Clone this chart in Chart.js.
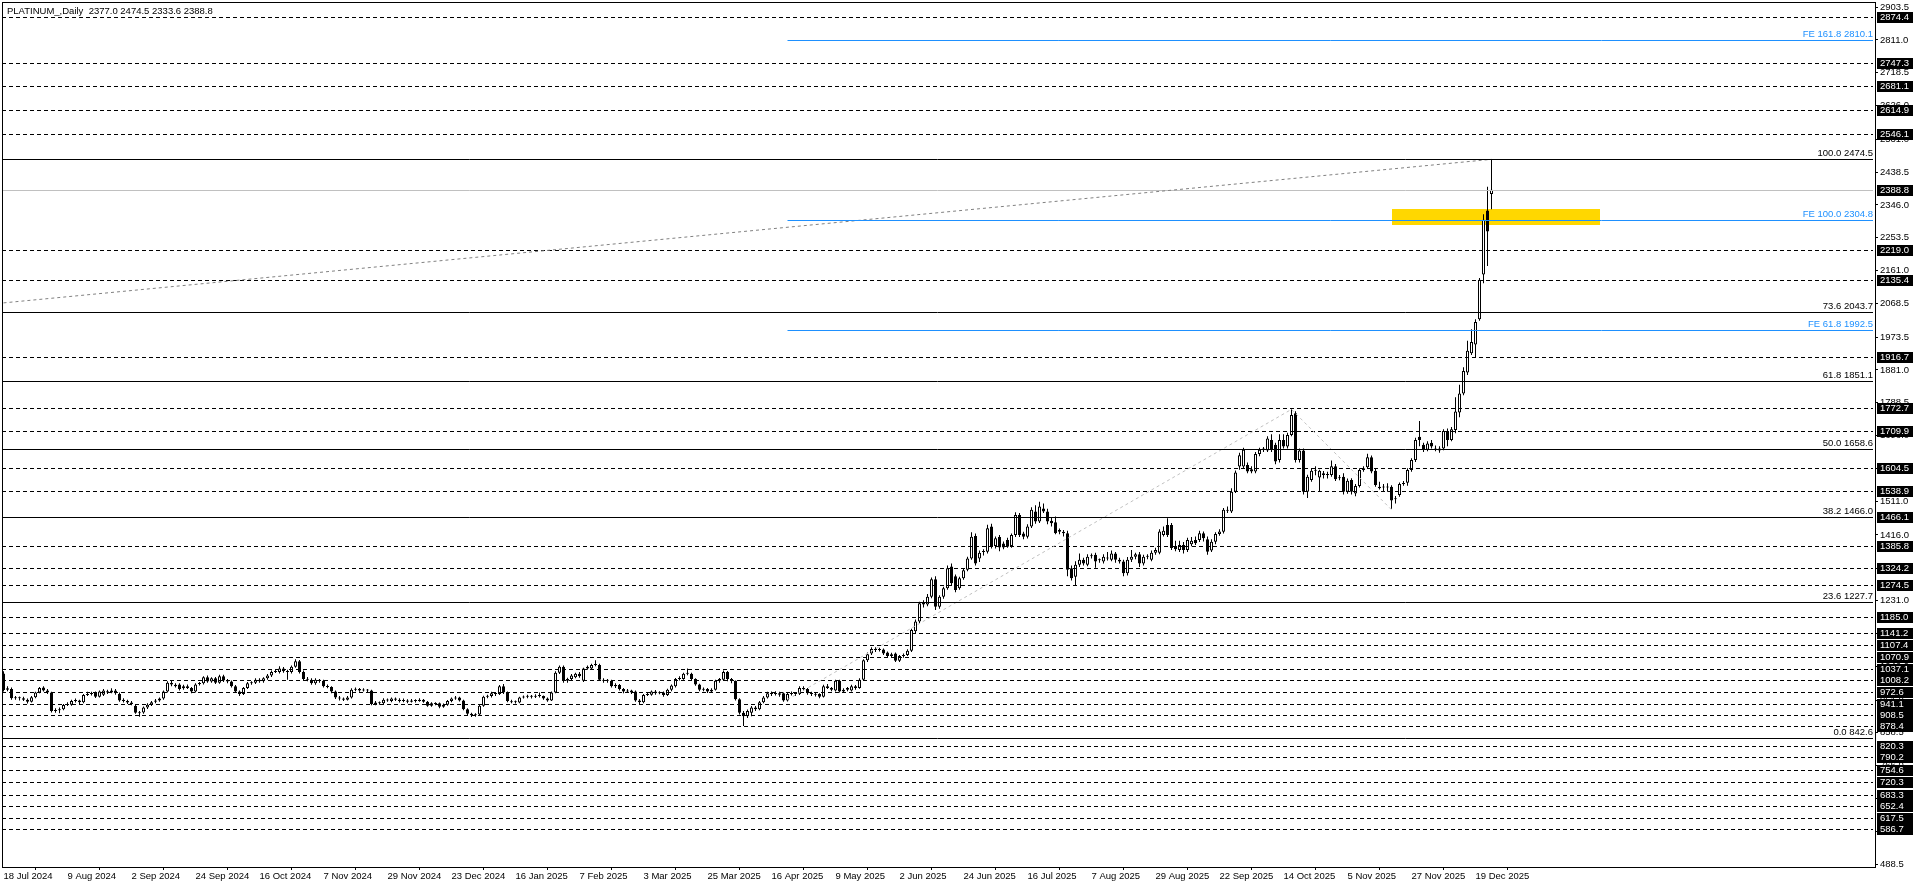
<!DOCTYPE html>
<html>
<head>
<meta charset="utf-8">
<title>PLATINUM_ Daily</title>
<script src="https://cdn.jsdelivr.net/npm/chart.js@4.4.1/dist/chart.umd.min.js"></script>
<style>
	html, body { margin: 0; padding: 0; background: #fff; }
	#wrap { width: 1916px; height: 888px; position: relative; }
</style>
</head>
<body>
<div id="wrap"><canvas id="PriceChart"></canvas></div>
<script>
// daily candles, 18 Jul 2024 .. 26 Dec 2025
var opens = [
	1026, 980, 982, 956, 958, 956, 952, 946, 959, 972,
	986, 978, 972, 920, 922, 925, 937, 938, 948, 950,
	945, 965, 968, 972, 960, 966, 976, 972, 978, 968,
	952, 948, 944, 935, 914, 916, 930, 938, 946, 950,
	955, 975, 1000, 994, 995, 984, 990, 985, 975, 996,
	998, 1015, 1003, 1012, 1000, 1018, 1006, 1003, 990, 975,
	968, 985, 998, 1000, 1008, 1004, 1012, 1020, 1030, 1030,
	1040, 1032, 1030, 1045, 1060, 1030, 1010, 1008, 998, 1006,
	1005, 990, 988, 975, 958, 955, 952, 958, 980, 982,
	978, 980, 978, 940, 944, 942, 952, 948, 955, 952,
	948, 950, 946, 950, 948, 952, 946, 935, 942, 942,
	932, 938, 948, 955, 958, 950, 925, 912, 908, 910,
	935, 960, 962, 970, 968, 990, 972, 947, 945, 944,
	958, 960, 962, 960, 963, 962, 955, 950, 972, 1028,
	1045, 1005, 1010, 1015, 1025, 1005, 1040, 1040, 1050, 1050,
	1008, 1005, 1005, 990, 993, 982, 975, 978, 975, 950,
	945, 965, 966, 975, 970, 972, 965, 980, 990, 1010,
	1010, 1025, 1025, 1010, 995, 980, 982, 975, 980, 1005,
	1008, 1030, 1010, 1005, 953, 915, 905, 915, 930, 925,
	945, 958, 970, 968, 970, 970, 950, 968, 970, 968,
	985, 982, 970, 968, 968, 960, 990, 985, 978, 1005,
	975, 980, 978, 990, 985, 1008, 1063, 1082, 1095, 1092,
	1093, 1085, 1075, 1082, 1062, 1075, 1078, 1090, 1145, 1172,
	1220, 1220, 1242, 1291, 1214, 1242, 1266, 1327, 1300, 1266,
	1294, 1318, 1350, 1413, 1350, 1368, 1369, 1440, 1385, 1410,
	1392, 1402, 1385, 1416, 1472, 1420, 1411, 1440, 1482, 1454,
	1491, 1482, 1456, 1452, 1430, 1425, 1421, 1322, 1298, 1332,
	1346, 1332, 1356, 1360, 1345, 1341, 1350, 1346, 1364, 1346,
	1341, 1308, 1346, 1355, 1362, 1336, 1355, 1346, 1366, 1366,
	1416, 1444, 1444, 1385, 1374, 1388, 1374, 1390, 1402, 1402,
	1421, 1404, 1372, 1397, 1419, 1425, 1487, 1482, 1538, 1609,
	1609, 1613, 1601, 1595, 1644, 1657, 1654, 1684, 1670, 1627,
	1684, 1665, 1698, 1759, 1627, 1654, 1538, 1571, 1597, 1578,
	1590, 1588, 1585, 1610, 1576, 1580, 1538, 1571, 1533, 1554,
	1599, 1607, 1635, 1597, 1552, 1550, 1550, 1552, 1517, 1529,
	1560, 1563, 1599, 1627, 1693, 1670, 1656, 1676, 1660, 1660,
	1660, 1709, 1684, 1712, 1761, 1815, 1874, 1928, 1953, 2024,
	2150, 2330, 2377.0
];
var highs = [
	1032, 990, 986, 962, 961, 960, 955, 962, 974, 988,
	990, 982, 974, 928, 930, 940, 945, 952, 955, 952,
	968, 974, 974, 975, 978, 982, 980, 984, 982, 972,
	956, 952, 948, 938, 920, 933, 942, 948, 954, 958,
	978, 1004, 1006, 998, 998, 994, 995, 988, 998, 1002,
	1018, 1020, 1015, 1016, 1022, 1022, 1010, 1006, 993, 978,
	988, 1002, 1004, 1012, 1012, 1015, 1024, 1034, 1038, 1046,
	1044, 1036, 1048, 1066, 1064, 1034, 1016, 1012, 1012, 1010,
	1008, 995, 990, 978, 962, 958, 962, 984, 986, 985,
	984, 982, 980, 948, 947, 956, 955, 958, 958, 956,
	955, 953, 954, 953, 956, 954, 948, 945, 945, 944,
	941, 951, 958, 962, 960, 952, 928, 915, 914, 938,
	963, 966, 974, 973, 993, 996, 975, 952, 950, 960,
	964, 966, 965, 967, 972, 964, 958, 975, 1032, 1048,
	1048, 1014, 1024, 1028, 1030, 1042, 1048, 1053, 1063, 1053,
	1012, 1010, 1008, 998, 996, 985, 982, 980, 978, 954,
	968, 972, 978, 979, 976, 975, 983, 995, 1013, 1018,
	1028, 1040, 1028, 1012, 997, 986, 985, 984, 1008, 1013,
	1034, 1033, 1013, 1006, 956, 920, 924, 934, 934, 948,
	962, 974, 975, 976, 974, 972, 972, 975, 973, 990,
	990, 985, 974, 972, 970, 994, 996, 988, 1008, 1008,
	984, 988, 994, 993, 1012, 1066, 1085, 1100, 1100, 1098,
	1096, 1088, 1084, 1085, 1078, 1082, 1094, 1152, 1178, 1228,
	1232, 1250, 1296, 1300, 1246, 1270, 1330, 1336, 1305, 1298,
	1322, 1355, 1424, 1420, 1372, 1376, 1445, 1448, 1412, 1416,
	1398, 1408, 1420, 1480, 1478, 1425, 1446, 1494, 1500, 1510,
	1505, 1490, 1466, 1468, 1434, 1430, 1428, 1330, 1342, 1364,
	1352, 1362, 1364, 1366, 1350, 1362, 1368, 1372, 1368, 1352,
	1346, 1354, 1374, 1366, 1368, 1360, 1362, 1372, 1380, 1432,
	1440, 1463, 1450, 1400, 1400, 1396, 1408, 1410, 1412, 1428,
	1426, 1412, 1404, 1424, 1432, 1492, 1496, 1548, 1598, 1648,
	1662, 1620, 1610, 1650, 1662, 1664, 1694, 1700, 1676, 1700,
	1700, 1704, 1770, 1765, 1660, 1660, 1586, 1604, 1610, 1600,
	1596, 1594, 1626, 1616, 1585, 1590, 1575, 1576, 1560, 1604,
	1610, 1645, 1640, 1602, 1566, 1560, 1562, 1556, 1526, 1564,
	1568, 1604, 1632, 1690, 1737, 1676, 1680, 1684, 1668, 1666,
	1714, 1716, 1720, 1804, 1839, 1889, 1963, 1996, 2024, 2140,
	2320, 2397, 2474.5
];
var lows = [
	975, 976, 952, 952, 950, 948, 941, 944, 956, 970,
	975, 968, 916, 915, 914, 922, 934, 935, 944, 940,
	942, 962, 964, 957, 958, 962, 968, 970, 966, 946,
	944, 940, 936, 912, 904, 912, 926, 934, 942, 946,
	952, 972, 990, 986, 978, 980, 982, 970, 972, 992,
	995, 1000, 1000, 996, 997, 1002, 998, 986, 972, 962,
	965, 982, 994, 996, 1000, 1000, 1008, 1016, 1027, 1026,
	1028, 1008, 1026, 1042, 1026, 1006, 1004, 994, 994, 1000,
	986, 984, 970, 954, 950, 948, 950, 955, 976, 974,
	975, 972, 936, 936, 938, 940, 946, 945, 948, 944,
	945, 942, 944, 944, 946, 943, 932, 932, 936, 928,
	929, 935, 945, 952, 947, 922, 908, 903, 904, 908,
	932, 956, 958, 962, 965, 968, 945, 942, 941, 942,
	955, 956, 955, 957, 958, 952, 946, 948, 970, 1024,
	1000, 1000, 1006, 1012, 1014, 1002, 1036, 1038, 1046, 1005,
	1000, 1000, 986, 985, 978, 970, 972, 968, 946, 937,
	942, 962, 963, 966, 967, 960, 962, 976, 986, 1006,
	1008, 1021, 1006, 991, 976, 976, 971, 972, 978, 1000,
	1005, 1004, 998, 950, 910, 878, 900, 905, 920, 922,
	942, 955, 962, 964, 960, 946, 947, 964, 962, 965,
	978, 966, 962, 961, 956, 958, 982, 976, 975, 972,
	971, 976, 975, 980, 983, 1005, 1058, 1078, 1086, 1088,
	1078, 1070, 1072, 1058, 1058, 1070, 1075, 1086, 1140, 1168,
	1212, 1215, 1238, 1205, 1208, 1236, 1262, 1272, 1255, 1262,
	1290, 1314, 1346, 1330, 1340, 1358, 1364, 1378, 1378, 1370,
	1376, 1380, 1380, 1410, 1410, 1404, 1406, 1436, 1448, 1450,
	1478, 1446, 1440, 1418, 1418, 1412, 1300, 1288, 1275, 1326,
	1330, 1328, 1350, 1324, 1338, 1336, 1344, 1342, 1338, 1336,
	1300, 1302, 1340, 1348, 1326, 1330, 1348, 1342, 1360, 1362,
	1412, 1410, 1374, 1370, 1368, 1364, 1368, 1384, 1388, 1396,
	1398, 1360, 1368, 1390, 1414, 1420, 1478, 1478, 1534, 1600,
	1604, 1590, 1590, 1590, 1638, 1650, 1650, 1650, 1615, 1620,
	1660, 1660, 1694, 1620, 1620, 1530, 1520, 1566, 1584, 1540,
	1575, 1575, 1580, 1568, 1570, 1530, 1532, 1530, 1525, 1550,
	1594, 1602, 1590, 1552, 1544, 1540, 1538, 1490, 1505, 1524,
	1555, 1555, 1594, 1622, 1666, 1650, 1652, 1660, 1652, 1648,
	1655, 1666, 1680, 1703, 1748, 1810, 1867, 1923, 1917, 2020,
	2125, 2174, 2333.6
];
var closes = [
	979, 984, 956, 958, 956, 952, 946, 959, 972, 985,
	978, 972, 920, 922, 925, 937, 940, 948, 950, 945,
	965, 968, 970, 960, 975, 978, 972, 978, 970, 950,
	948, 944, 940, 915, 916, 930, 938, 945, 950, 955,
	975, 1000, 995, 990, 982, 990, 985, 975, 995, 998,
	1015, 1003, 1012, 1000, 1018, 1006, 1003, 990, 975, 968,
	985, 998, 1000, 1008, 1004, 1012, 1020, 1030, 1032, 1040,
	1032, 1030, 1045, 1060, 1030, 1010, 1008, 998, 1008, 1005,
	990, 988, 975, 958, 955, 952, 958, 980, 982, 978,
	980, 978, 940, 944, 942, 952, 950, 955, 952, 948,
	950, 946, 950, 948, 952, 946, 935, 942, 940, 932,
	938, 948, 955, 958, 950, 925, 912, 908, 910, 935,
	960, 962, 970, 968, 990, 972, 948, 945, 946, 958,
	960, 962, 960, 963, 962, 955, 950, 972, 1028, 1045,
	1005, 1010, 1020, 1025, 1018, 1040, 1045, 1050, 1050, 1008,
	1005, 1005, 990, 993, 982, 975, 978, 972, 950, 945,
	965, 968, 975, 970, 972, 965, 980, 992, 1010, 1012,
	1025, 1025, 1010, 995, 980, 982, 975, 980, 1005, 1010,
	1030, 1010, 1005, 953, 915, 905, 920, 930, 925, 945,
	958, 970, 968, 970, 966, 950, 968, 970, 968, 985,
	982, 970, 968, 966, 960, 990, 985, 980, 1005, 975,
	980, 985, 990, 985, 1008, 1063, 1080, 1095, 1092, 1093,
	1082, 1075, 1080, 1062, 1075, 1078, 1090, 1148, 1172, 1224,
	1226, 1242, 1291, 1214, 1242, 1266, 1322, 1280, 1261, 1294,
	1317, 1350, 1411, 1336, 1366, 1369, 1435, 1383, 1407, 1381,
	1381, 1383, 1416, 1472, 1416, 1411, 1440, 1487, 1454, 1496,
	1482, 1454, 1449, 1421, 1425, 1421, 1318, 1294, 1332, 1346,
	1336, 1355, 1357, 1341, 1346, 1355, 1351, 1364, 1346, 1341,
	1308, 1346, 1355, 1362, 1336, 1355, 1355, 1366, 1374, 1426,
	1428, 1416, 1379, 1376, 1388, 1374, 1402, 1400, 1393, 1421,
	1407, 1369, 1397, 1419, 1426, 1487, 1484, 1538, 1592, 1641,
	1656, 1595, 1595, 1644, 1656, 1660, 1688, 1656, 1623, 1684,
	1665, 1698, 1754, 1627, 1654, 1538, 1580, 1597, 1597, 1597,
	1585, 1585, 1610, 1573, 1579, 1538, 1569, 1538, 1554, 1599,
	1604, 1635, 1595, 1557, 1548, 1550, 1550, 1513, 1519, 1560,
	1562, 1599, 1627, 1684, 1684, 1657, 1674, 1665, 1657, 1654,
	1709, 1684, 1714, 1764, 1815, 1878, 1935, 1960, 2016, 2135,
	2304, 2271, 2388.8
];

// time axis: one label every 16 bars
var xTickIdx = [0, 16, 32, 48, 64, 80, 96, 112, 128, 144, 160, 176, 192, 208, 224, 240, 256, 272, 288, 304, 320, 336, 352, 368];
var xTickLabels = ['18 Jul 2024', '9 Aug 2024', '2 Sep 2024', '24 Sep 2024', '16 Oct 2024', '7 Nov 2024', '29 Nov 2024', '23 Dec 2024',
	'16 Jan 2025', '7 Feb 2025', '3 Mar 2025', '25 Mar 2025', '16 Apr 2025', '9 May 2025', '2 Jun 2025', '24 Jun 2025',
	'16 Jul 2025', '7 Aug 2025', '29 Aug 2025', '22 Sep 2025', '14 Oct 2025', '5 Nov 2025', '27 Nov 2025', '19 Dec 2025'];

// price axis
var yTickValues = [2903.5, 2811.0, 2718.5, 2626.0, 2531.0, 2438.5, 2346.0, 2253.5, 2161.0, 2068.5, 1973.5, 1881.0, 1788.5, 1696.0,
	1603.5, 1511.0, 1416.0, 1321.0, 1231.0, 1138.5, 1046.0, 951.0, 858.5, 766.0, 673.5, 581.0, 488.5];

// horizontal levels
var dashLevels = [2874.4, 2747.3, 2681.1, 2614.9, 2546.1, 2219.0, 2135.4, 1916.7, 1772.7, 1709.9, 1604.5, 1538.9, 1466.1,
	1385.8, 1324.2, 1274.5, 1185.0, 1141.2, 1107.4, 1070.9, 1037.1, 1008.2, 972.6, 941.1, 908.5, 878.4,
	820.3, 790.2, 754.6, 720.3, 683.3, 652.4, 617.5, 586.7];
var fibRatios = ['100.0', '73.6', '61.8', '50.0', '38.2', '23.6', '0.0'];
var fibLevels = [2474.5, 2043.7, 1851.1, 1658.6, 1466.0, 1227.7, 842.6];
var feRatios = ['161.8', '100.0', '61.8'];
var feLevels = [2810.1, 2304.8, 1992.5];
var feStartIdx = 196;
var lastPrice = 2388.8;

// drawn objects (bar index / price)
var zigzagIdx = [196, 322, 347];
var zigzagPrices = [952.4, 1770.0, 1487.2];
var trendIdx = [0, 372];
var trendPrices = [2070.0, 2474.5];
var rectIdx = [347, 399];
var rectPrices = [2290.3, 2334.6];

var labelFont = '9.5px "Liberation Sans", Arial, sans-serif';

var bodyData = [], wickData = [], bodyFill = [];
for (var i = 0; i < closes.length; i++) {
	bodyData.push({ x: i, y: [opens[i], closes[i]] });
	wickData.push({ x: i, y: [lows[i], highs[i]] });
	bodyFill.push(closes[i] >= opens[i] ? '#ffffff' : '#000000');
}

function hline(ctx, yPix, x1, x2, color, dash) {
	var yy = Math.round(yPix) + 0.5;
	ctx.beginPath();
	ctx.strokeStyle = color;
	ctx.lineWidth = 1;
	ctx.setLineDash(dash || []);
	ctx.moveTo(x1, yy);
	ctx.lineTo(x2, yy);
	ctx.stroke();
}

var mtObjects = {
	id: 'mtObjects',
	beforeDatasetsDraw: function(chart) {
		var ctx = chart.ctx, xs = chart.scales.x, ys = chart.scales.y, a = chart.chartArea;
		ctx.save();
		ctx.beginPath();
		ctx.rect(a.left, a.top, a.right - a.left, a.bottom - a.top);
		ctx.clip();
		// yellow box
		var x1 = xs.getPixelForValue(rectIdx[0]), x2 = xs.getPixelForValue(rectIdx[1]);
		var y1 = ys.getPixelForValue(rectPrices[1]), y2 = ys.getPixelForValue(rectPrices[0]);
		ctx.fillStyle = '#FFD700';
		ctx.fillRect(Math.round(x1), Math.round(y1), Math.round(x2 - x1), Math.round(y2 - y1));
		ctx.restore();
	},
	afterDatasetsDraw: function(chart) {
		var ctx = chart.ctx, xs = chart.scales.x, ys = chart.scales.y, a = chart.chartArea;
		var i, y;
		ctx.save();
		ctx.beginPath();
		ctx.rect(a.left, a.top, a.right - a.left, a.bottom - a.top);
		ctx.clip();

		// dashed horizontal levels
		for (i = 0; i < dashLevels.length; i++) {
			hline(ctx, ys.getPixelForValue(dashLevels[i]), a.left, a.right - 2, '#000000', [4, 3]);
		}
		// last price
		hline(ctx, ys.getPixelForValue(lastPrice), a.left, a.right - 2, '#C0C0C0');

		// trend line
		ctx.beginPath();
		ctx.strokeStyle = '#808080';
		ctx.setLineDash([3, 3]);
		ctx.moveTo(xs.getPixelForValue(trendIdx[0]), ys.getPixelForValue(trendPrices[0]));
		ctx.lineTo(xs.getPixelForValue(trendIdx[1]), ys.getPixelForValue(trendPrices[1]));
		ctx.stroke();

		// expansion zigzag
		ctx.beginPath();
		ctx.strokeStyle = '#C0C0C0';
		ctx.setLineDash([3, 3]);
		for (i = 0; i < zigzagIdx.length; i++) {
			var px = xs.getPixelForValue(zigzagIdx[i]), py = ys.getPixelForValue(zigzagPrices[i]);
			if (i == 0) ctx.moveTo(px, py); else ctx.lineTo(px, py);
		}
		ctx.stroke();

		ctx.font = labelFont;
		ctx.textAlign = 'right';
		ctx.textBaseline = 'bottom';

		// fibo retracement
		for (i = 0; i < fibLevels.length; i++) {
			y = ys.getPixelForValue(fibLevels[i]);
			hline(ctx, y, a.left, a.right - 2, '#000000');
			ctx.fillStyle = '#000000';
			ctx.fillText(fibRatios[i] + ' ' + fibLevels[i].toFixed(1), a.right - 2, Math.round(y) - 1);
		}
		// fibo expansion
		var feX = xs.getPixelForValue(feStartIdx);
		for (i = 0; i < feLevels.length; i++) {
			y = ys.getPixelForValue(feLevels[i]);
			hline(ctx, y, feX, a.right - 2, '#1E90FF');
			ctx.fillStyle = '#1E90FF';
			ctx.fillText('FE ' + feRatios[i] + ' ' + feLevels[i].toFixed(1), a.right - 2, Math.round(y) - 1);
		}
		ctx.restore();
	},
	afterDraw: function(chart) {
		var ctx = chart.ctx, ys = chart.scales.y, a = chart.chartArea;
		var i, y;
		ctx.save();
		ctx.font = labelFont;
		ctx.textBaseline = 'middle';
		ctx.textAlign = 'left';

		// price boxes on the axis
		var boxed = dashLevels.concat([lastPrice]);
		for (i = 0; i < boxed.length; i++) {
			y = Math.round(ys.getPixelForValue(boxed[i]));
			ctx.fillStyle = '#000000';
			ctx.fillRect(a.right + 2, y - 5, 36, 11);
			ctx.fillStyle = '#ffffff';
			ctx.fillText(boxed[i].toFixed(1), a.right + 5, y + 0.5);
		}

		// frame
		ctx.strokeStyle = '#000000';
		ctx.lineWidth = 1;
		ctx.setLineDash([]);
		ctx.strokeRect(a.left + 0.5, a.top - 0.5, a.right - a.left, a.bottom - a.top + 1);

		// title
		var n = closes.length - 1;
		ctx.fillStyle = '#000000';
		ctx.fillText('PLATINUM_,Daily  ' + [opens[n], highs[n], lows[n], closes[n]].map(function(v) { return v.toFixed(1); }).join(' '), 7, 11);
		ctx.restore();
	}
};

var ctx = document.getElementById('PriceChart').getContext('2d');
var chart = new Chart(ctx, {
	type: 'bar',
	data: {
		datasets: [{
			label: 'wicks',
			data: wickData,
			backgroundColor: '#000000',
			borderWidth: 0,
			barThickness: 1,
			grouped: false,
			inflateAmount: 0,
			order: 2
		}, {
			label: 'bodies',
			data: bodyData,
			backgroundColor: bodyFill,
			borderColor: '#000000',
			borderWidth: 1,
			borderSkipped: false,
			barThickness: 3,
			minBarLength: 1,
			grouped: false,
			inflateAmount: 0,
			order: 1
		}]
	},
	options: {
		responsive: true,
		maintainAspectRatio: false,
		animation: false,
		events: [],
		layout: { padding: { left: 2, top: 3, right: 0, bottom: 0 } },
		plugins: {
			legend: { display: false },
			tooltip: { enabled: false }
		},
		scales: {
			x: {
				type: 'linear',
				min: -0.375,
				max: 467.875,
				offset: false,
				afterBuildTicks: function(s) { s.ticks = xTickIdx.map(function(v) { return { value: v }; }); },
				afterFit: function(s) { s.height = 21; s.paddingLeft = 0; s.paddingRight = 0; },
				ticks: {
					autoSkip: false,
					maxRotation: 0,
					align: 'start',
					padding: 1,
					color: '#000000',
					font: { family: 'Liberation Sans', size: 9.5 },
					callback: function(v) { return xTickLabels[xTickIdx.indexOf(v)]; }
				},
				grid: { drawOnChartArea: false, drawTicks: true, tickLength: 3, color: '#000000' },
				border: { display: true, color: '#000000' }
			},
			y: {
				type: 'linear',
				position: 'right',
				min: 480.5,
				max: 2915,
				afterBuildTicks: function(s) { s.ticks = yTickValues.map(function(v) { return { value: v }; }); },
				afterFit: function(s) { s.width = 41; s.paddingTop = 0; s.paddingBottom = 0; },
				ticks: {
					padding: 2,
					color: '#000000',
					font: { family: 'Liberation Sans', size: 9.5 },
					callback: function(v) { return v.toFixed(1); }
				},
				grid: { drawOnChartArea: false, drawTicks: true, tickLength: 3, color: '#000000' },
				border: { display: true, color: '#000000' }
			}
		}
	},
	plugins: [mtObjects]
});
</script>
</body>
</html>
